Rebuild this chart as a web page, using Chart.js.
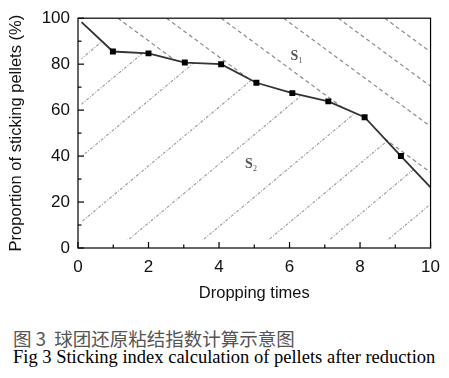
<!DOCTYPE html>
<html>
<head>
<meta charset="utf-8">
<script src="https://cdn.jsdelivr.net/npm/chart.js@4.4.1/dist/chart.umd.min.js"></script>
<style>
  body { margin: 0; background: #fff; }
  #wrap { position: relative; width: 449px; height: 378px; }
  #chartBox { position: absolute; left: 0; top: 0; width: 449px; height: 310px; }
  .cap { position: absolute; left: 13px; white-space: nowrap; line-height: 22px; }
  #capZh { top: 327px; font-size: 18.5px; font-family: "Noto Sans CJK SC"; color: #555; }
  #capEn { top: 346px; font-size: 18.5px; font-family: "Liberation Serif"; color: #000; }
</style>
</head>
<body>
<div id="wrap">
  <div id="chartBox"><canvas id="stickChart"></canvas></div>
  <div class="cap" id="capZh">图 3&nbsp;&nbsp;球团还原粘结指数计算示意图</div>
  <div class="cap" id="capEn">Fig 3 Sticking index calculation of pellets after reduction</div>
</div>
<script>
// curve
const dropTimes = [0.1, 0.99, 2.0, 3.03, 4.06, 5.06, 6.08, 7.1, 8.13, 9.16, 10];
const stickingPct = [98.3, 85.5, 84.7, 80.7, 80.0, 71.9, 67.4, 63.8, 56.9, 40.0, 26.4];

// hatch lines: S1 lines start on y=100 at these x, S2 lines cross y=0 at these x
const upperHatchTop = [1.13, 2.51, 4.06, 5.83, 7.38, 8.70];
const upperHatchDrop = 11.3;   // % per dropping time
const lowerHatchBase = [-6.34, -4.79, -3.01, -0.79, 1.15, 3.27, 5.13, 6.85, 8.51];
const lowerHatchRise = 12.8;

const areaLabels = ['1', '2'];
const areaLabelX = [6.14, 4.85];
const areaLabelY = [83.4, 36.6];

const xTickLabels = [0, 2, 4, 6, 8, 10];
const yTickLabels = [0, 20, 40, 60, 80, 100];

const hatchPlugin = {
    id: 'hatch',
    beforeDatasetsDraw(chart) {
        const { ctx, chartArea: a, scales: { x, y } } = chart;
        const px = v => x.getPixelForValue(v);
        const py = v => y.getPixelForValue(v);
        const curve = dropTimes.map((t, i) => [px(t), py(stickingPct[i])]);
        const last = curve[curve.length - 1];

        // S1: above the curve
        ctx.save();
        ctx.beginPath();
        ctx.moveTo(a.left, a.top);
        ctx.lineTo(a.left, curve[0][1]);
        curve.forEach(p => ctx.lineTo(p[0], p[1]));
        ctx.lineTo(a.right, last[1]);
        ctx.lineTo(a.right, a.top);
        ctx.closePath();
        ctx.clip();
        ctx.strokeStyle = '#8a8a8a';
        ctx.lineWidth = 1.2;
        ctx.setLineDash([4, 3]);
        upperHatchTop.forEach(x0 => {
            ctx.beginPath();
            ctx.moveTo(px(x0), py(100));
            ctx.lineTo(px(x0 + 100 / upperHatchDrop), py(0));
            ctx.stroke();
        });
        ctx.restore();

        // S2: below the curve
        ctx.save();
        ctx.beginPath();
        ctx.moveTo(curve[0][0], curve[0][1]);
        curve.forEach(p => ctx.lineTo(p[0], p[1]));
        ctx.lineTo(a.right - 2, last[1]);
        ctx.lineTo(a.right - 2, py(3.5));
        ctx.lineTo(curve[0][0], py(3.5));
        ctx.closePath();
        ctx.clip();
        ctx.strokeStyle = '#a0a0a0';
        ctx.lineWidth = 1.2;
        ctx.setLineDash([3, 1.5, 1, 1.5]);
        lowerHatchBase.forEach(x0 => {
            ctx.beginPath();
            ctx.moveTo(px(x0), py(0));
            ctx.lineTo(px(x0 + 100 / lowerHatchRise), py(100));
            ctx.stroke();
        });
        ctx.restore();

        // area labels
        ctx.save();
        ctx.fillStyle = '#555';
        ctx.textBaseline = 'middle';
        areaLabels.forEach((sub, i) => {
            const lx = px(areaLabelX[i]);
            const ly = py(areaLabelY[i]);
            ctx.font = 'bold 14px "Liberation Serif"';
            ctx.textAlign = 'center';
            ctx.fillText('S', lx, ly);
            ctx.font = '8px "Liberation Serif"';
            ctx.textAlign = 'left';
            ctx.fillText(sub, lx + 4, ly + 5);
        });
        ctx.restore();
    },
    afterDraw(chart) {
        const { ctx, chartArea: a, scales: { x, y } } = chart;
        ctx.save();
        ctx.strokeStyle = '#000';
        ctx.lineWidth = 1.2;
        ctx.setLineDash([]);
        ctx.strokeRect(a.left, a.top, a.right - a.left, a.bottom - a.top);
        x.ticks.forEach(t => {
            const len = xTickLabels.includes(t.value) ? 6 : 3.5;
            const p = x.getPixelForValue(t.value);
            ctx.beginPath();
            ctx.moveTo(p, a.bottom);
            ctx.lineTo(p, a.bottom - len);
            ctx.stroke();
        });
        y.ticks.forEach(t => {
            const len = yTickLabels.includes(t.value) ? 6 : 3.5;
            const p = y.getPixelForValue(t.value);
            ctx.beginPath();
            ctx.moveTo(a.left, p);
            ctx.lineTo(a.left + len, p);
            ctx.stroke();
        });
        ctx.restore();
    }
};

const tickFont = { family: '"Liberation Sans", Arial', size: 17 };
const titleFont = { family: '"Liberation Sans", Arial', size: 16.5 };

new Chart(document.getElementById('stickChart'), {
    type: 'line',
    data: {
        datasets: [{
            data: dropTimes.map((t, i) => ({ x: t, y: stickingPct[i] })),
            borderColor: '#333',
            borderWidth: 1.8,
            pointStyle: 'rect',
            pointRadius: dropTimes.map((t, i) => (i === 0 || i === dropTimes.length - 1) ? 0 : 4.2),
            pointBackgroundColor: '#000',
            pointBorderColor: '#000',
            pointBorderWidth: 0,
            tension: 0
        }]
    },
    options: {
        responsive: true,
        maintainAspectRatio: false,
        animation: false,
        layout: { padding: { left: 0, right: 16, top: 13, bottom: 0 } },
        plugins: {
            legend: { display: false },
            tooltip: { enabled: false }
        },
        scales: {
            x: {
                type: 'linear',
                min: 0,
                max: 10,
                grid: { display: false, drawTicks: false },
                border: { display: false },
                ticks: {
                    stepSize: 1,
                    autoSkip: false,
                    maxRotation: 0,
                    padding: 9,
                    color: '#111',
                    font: tickFont,
                    callback: v => xTickLabels.includes(v) ? v : ''
                },
                title: {
                    display: true,
                    text: 'Dropping times',
                    color: '#111',
                    font: titleFont,
                    padding: { top: 8, bottom: 7 }
                },
                afterFit: scale => { scale.height = 62; }
            },
            y: {
                min: 0,
                max: 100,
                grid: { display: false, drawTicks: false },
                border: { display: false },
                ticks: {
                    stepSize: 10,
                    autoSkip: false,
                    padding: 8,
                    color: '#111',
                    font: tickFont,
                    callback: v => yTickLabels.includes(v) ? v : ''
                },
                title: {
                    display: true,
                    text: 'Proportion of sticking pellets (%)',
                    color: '#111',
                    font: titleFont,
                    padding: { top: 7, bottom: 8 }
                },
                afterFit: scale => { scale.width = 78; }
            }
        }
    },
    plugins: [hatchPlugin]
});
</script>
</body>
</html>
